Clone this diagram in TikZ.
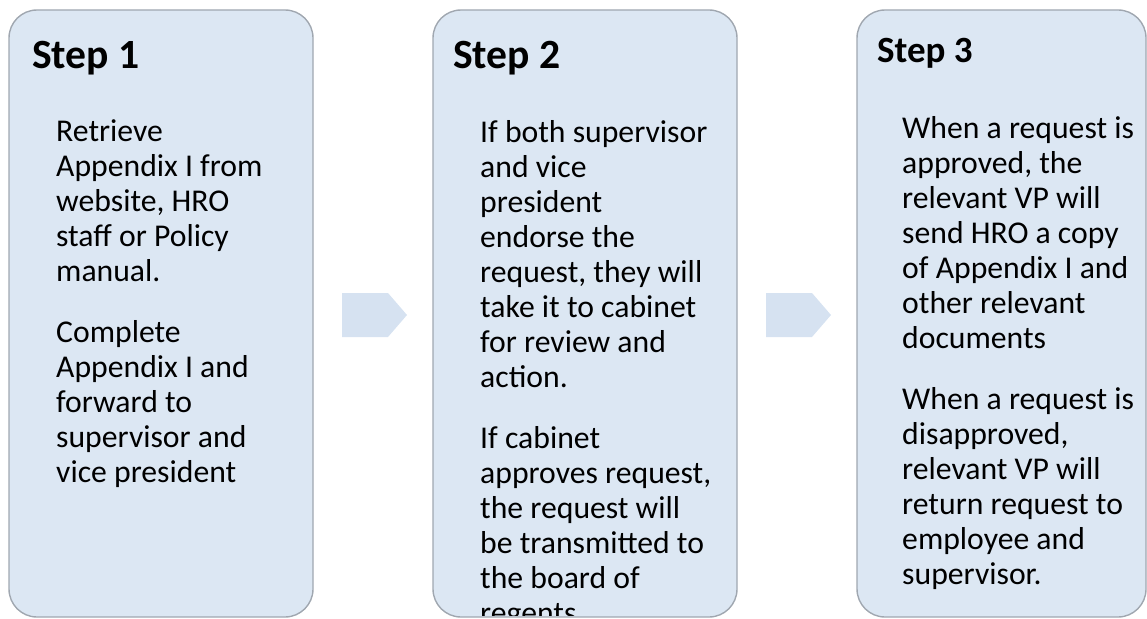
\documentclass[tikz,border=0pt]{standalone}
\usepackage{fontspec}
\setmainfont{Carlito}
\definecolor{boxfill}{RGB}{220,231,243}
\definecolor{boxline}{RGB}{160,167,176}
\definecolor{arrowfill}{RGB}{214,226,241}
\tikzset{
  stepbox/.style={draw=boxline, line width=1.4pt, fill=boxfill, rounded corners=28pt},
  head/.style={anchor=base west, inner sep=0pt, font=\bfseries\fontsize{41.6}{50}\selectfont},
  headsmall/.style={anchor=base west, inner sep=0pt, font=\bfseries\fontsize{37}{45}\selectfont},
  body/.style={anchor=north west, inner sep=0pt, align=left, font=\fontsize{31.7}{35}\selectfont},
  chevron/.style={fill=arrowfill, draw=none}
}
\begin{document}
\begin{tikzpicture}[x=1pt, y=-1pt]
\useasboundingbox (0,0) rectangle (1147,618);

% boxes
\draw[stepbox] (9,10) rectangle (313,617);
\draw[stepbox] (433,10) rectangle (737,617);
\draw[stepbox] (857,10) rectangle (1146,617);

% chevrons
\fill[chevron] (342,293) -- (388,293) -- (407,315) -- (388,337) -- (342,337) -- cycle;
\fill[chevron] (766,293) -- (812,293) -- (831,315) -- (812,337) -- (766,337) -- cycle;

% Step 1
\node[head] (h1) at (32,68) {Step 1};
\node[body] (t1) at (56,116.5) {\strut Retrieve\\Appendix I from\\website, HRO\\staff or Policy\\manual.\\[26pt]Complete\\Appendix I and\\forward to\\supervisor and\\vice president};

% Step 2
\node[head] (h2) at (453,68) {Step 2};
\begin{scope}
\clip[rounded corners=27pt] (434,11) rectangle (736,615);
\node[body] (t2) at (480,117.5) {\strut If both supervisor\\and vice\\president\\endorse the\\request, they will\\take it to cabinet\\for review and\\action.\\[26pt]If cabinet\\approves request,\\the request will\\be transmitted to\\the board of\\regents.};
\end{scope}

% Step 3
\node[headsmall] (h3) at (877,63) {Step 3};
\node[body] (t3) at (902,113.5) {\strut When a request is\\approved, the\\relevant VP will\\send HRO a copy\\of Appendix I and\\other relevant\\documents\\[26pt]When a request is\\disapproved,\\relevant VP will\\return request to\\employee and\\supervisor.};
\end{tikzpicture}
\end{document}
